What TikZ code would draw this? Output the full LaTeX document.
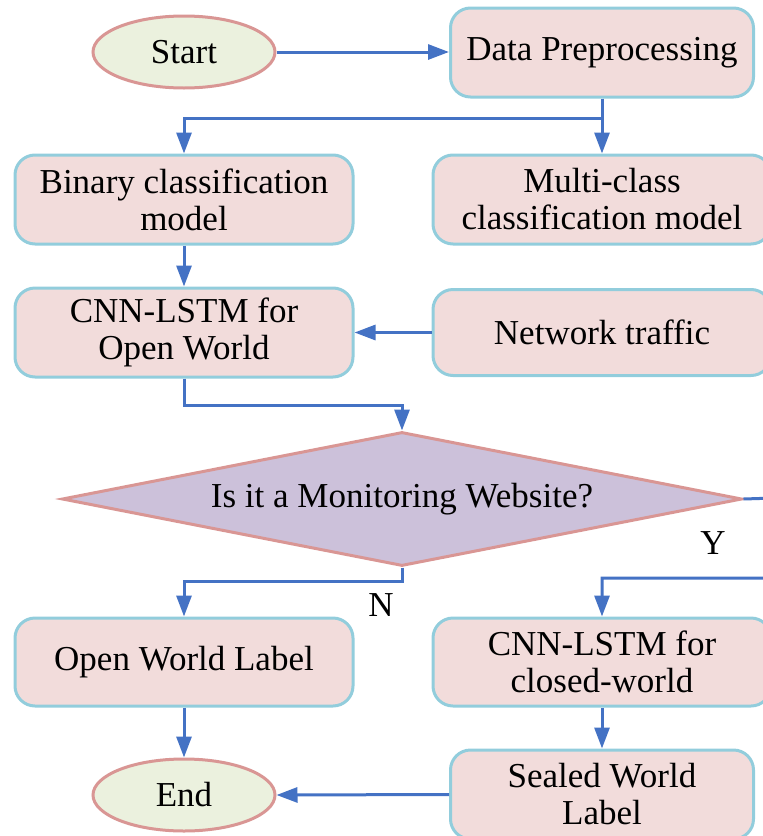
\documentclass[tikz,border=0pt]{standalone}
\usepackage{fontspec}
\setmainfont{Liberation Serif}
\usetikzlibrary{arrows.meta,shapes.geometric,calc}
\definecolor{linkblue}{HTML}{4472C4}
\definecolor{boxfill}{HTML}{F2DCDB}
\definecolor{boxline}{HTML}{92CDDC}
\definecolor{ovalfill}{HTML}{EBF1DE}
\definecolor{ovalline}{HTML}{D99694}
\definecolor{diafill}{HTML}{CCC1DA}
\tikzset{
  procbox/.style={draw=boxline, fill=boxfill, line width=3pt, rounded corners=20pt,
    align=center, inner sep=0pt, font=\fontsize{35}{37}\selectfont},
  terminal/.style={ellipse, draw=ovalline, fill=ovalfill, line width=3pt,
    minimum width=182pt, minimum height=72pt, inner sep=0pt, font=\fontsize{35}{37}\selectfont},
  decision/.style={diamond, draw=ovalline, fill=diafill, line width=3pt, aspect=5.07,
    minimum width=680pt, minimum height=134pt, inner sep=0pt, font=\fontsize{35}{37}\selectfont},
  arr/.style={draw=linkblue, line width=3pt, -{Triangle[width=15pt,length=21pt]}},
  lbl/.style={font=\fontsize{35}{37}\selectfont, inner sep=0pt}
}
\begin{document}
\begin{tikzpicture}[x=1pt,y=-1pt]
\useasboundingbox (0,0) rectangle (763,836);
\clip (0,0) rectangle (763,836);
% nodes
\node[terminal] (start) at (184,52) {Start};
\node[procbox, minimum width=303pt, minimum height=89pt] (data) at (602,52.5) {Data Preprocessing};
\node[procbox, minimum width=338pt, minimum height=89pt] (binary) at (184,199.5) {Binary classification\\model};
\node[procbox, minimum width=338pt, minimum height=89pt] (multi) at (602,199.5) {Multi-class\\classification model};
\node[procbox, minimum width=338pt, minimum height=89pt] (cnnopen) at (184,332.5) {CNN-LSTM for\\Open World};
\node[procbox, minimum width=338pt, minimum height=86pt] (net) at (602,332.5) {Network traffic};
\node[decision] (dec) at (402,499) {Is it a Monitoring Website?};
\node[procbox, minimum width=338pt, minimum height=88pt] (openlbl) at (184,662) {Open World Label};
\node[procbox, minimum width=338pt, minimum height=88pt] (closed) at (602,662) {CNN-LSTM for\\closed-world};
\node[terminal] (end) at (184,795) {End};
\node[procbox, minimum width=303pt, minimum height=89pt] (sealed) at (602,794.5) {Sealed World\\Label};
\node[lbl] (nlab) at (381,605) {N};
\node[lbl] (ylab) at (713,543) {Y};
\coordinate (yc1) at (775,498);
\coordinate (yc2) at (775,578);
% connectors
\draw[arr] (start.east) -- (start.east -| data.west);
\draw[arr] (data.south) -- ($(data.south)+(0,20)$) -| (binary.north);
\draw[arr] (data.south) -- (multi.north);
\draw[arr] (binary.south) -- (cnnopen.north);
\draw[arr] (net.west) -- (cnnopen.east);
\draw[arr] (cnnopen.south) -- ($(cnnopen.south)+(0,27)$) -| (dec.north);
\draw[arr] (dec.south) -- ($(dec.south)+(0,14)$) -| (openlbl.north);
\draw[arr] (dec.east) -- (yc1) -- (yc2) -| (closed.north);
\draw[arr] (openlbl.south) -- (end.north);
\draw[arr] (closed.south) -- (sealed.north);
\draw[arr] (sealed.west) -- (end.east);
\end{tikzpicture}
\end{document}
